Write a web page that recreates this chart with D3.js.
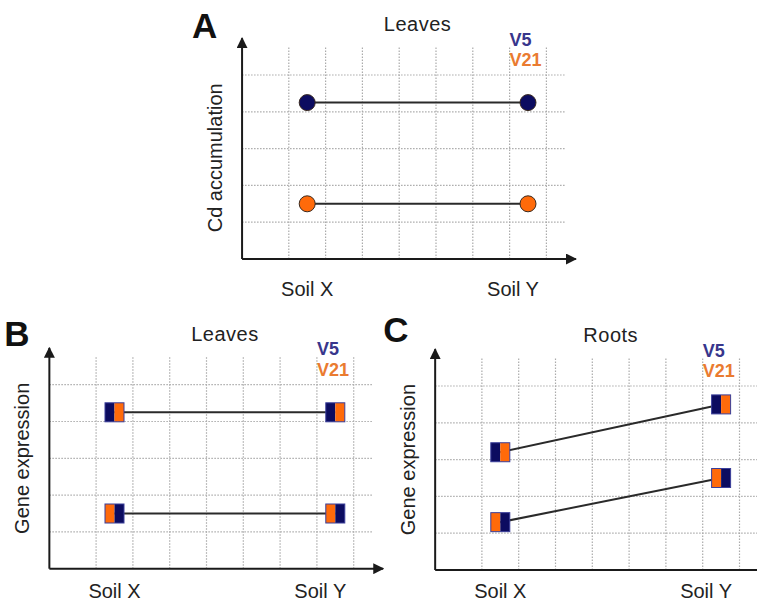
<!DOCTYPE html>
<html>
  <head>
    <meta charset="UTF-8" />
    <title>Cd accumulation and gene expression</title>
    <script src="https://cdn.jsdelivr.net/npm/d3@7"></script>
    <style>
      body {
        margin: 0;
        background: #fff;
      }
      svg text {
        font-family: "Liberation Sans", Arial, sans-serif;
      }
    </style>
  </head>
  <body>
    <div class="chart"></div>

    <script>
      // data (grid units)
      const categories = ["Soil X", "Soil Y"];
      const cdV5 = [4.25, 4.25];
      const cdV21 = [1.5, 1.5];
      const leavesHigh = [4.25, 4.25];
      const leavesLow = [1.5, 1.5];
      const rootsHigh = [3.2, 4.5];
      const rootsLow = [1.3, 2.5];
      const xGrid = [1, 2, 3, 4, 5, 6, 7, 8];
      const yGrid = [1, 2, 3, 4, 5];
      const legendLabels = ["V5", "V21"];

      let colors = { V5: "#0c0c60", V21: "#ff6a0a" };
      let legendColors = { V5: "#38368c", V21: "#ea7b30" };

      let width = 757;
      let height = 603;
      let unit = 36.8;

      let panels = [
        {
          letter: "A", x0: 252, y0: 259, title: "Leaves", ylabel: "Cd accumulation",
          ylabelAt: 2.75, catDy: 37, letterDx: -50, letterY: 6.0, kind: "dot",
          series: [
            { values: cdV5, halves: ["V5"] },
            { values: cdV21, halves: ["V21"] },
          ],
        },
        {
          letter: "B", x0: 59.3, y0: 568.7, title: "Leaves", ylabel: "Gene expression",
          ylabelAt: 3, catDy: 29, letterDx: -45, letterY: 6.05, kind: "split",
          series: [
            { values: leavesHigh, halves: ["V5", "V21"] },
            { values: leavesLow, halves: ["V21", "V5"] },
          ],
        },
        {
          letter: "C", x0: 445.1, y0: 570, title: "Roots", ylabel: "Gene expression",
          ylabelAt: 3, catDy: 28, letterDx: -52, letterY: 6.2, kind: "split",
          series: [
            { values: rootsHigh, halves: ["V5", "V21"] },
            { values: rootsLow, halves: ["V21", "V5"] },
          ],
        },
      ];

      let svg = d3
        .select(".chart")
        .append("svg")
        .attr("width", width)
        .attr("height", height);

      svg
        .append("defs")
        .append("marker")
        .attr("id", "arrow")
        .attr("markerUnits", "userSpaceOnUse")
        .attr("viewBox", "0 0 10 10")
        .attr("refX", 9)
        .attr("refY", 5)
        .attr("markerWidth", 11)
        .attr("markerHeight", 11)
        .attr("orient", "auto")
        .append("path")
        .attr("d", "M0,0 L10,5 L0,10 z")
        .attr("fill", "#1a1a1a");

      panels.forEach((p) => {
        let x = d3.scaleLinear().domain([0, 8]).range([p.x0, p.x0 + 8 * unit]);
        let y = d3.scaleLinear().domain([0, 6]).range([p.y0, p.y0 - 6 * unit]);
        let xCat = d3.scalePoint().domain(categories).range([x(1.5), x(7.5)]);
        let g = svg.append("g");

        // dotted grid
        g.selectAll(".vgrid")
          .data(xGrid)
          .enter()
          .append("line")
          .attr("x1", (d) => x(d))
          .attr("x2", (d) => x(d))
          .attr("y1", y(0))
          .attr("y2", y(5.75))
          .attr("stroke", "#ababab")
          .attr("stroke-width", 1.2)
          .attr("stroke-dasharray", "1.5,1.5");

        g.selectAll(".hgrid")
          .data(yGrid)
          .enter()
          .append("line")
          .attr("x1", x(-0.27))
          .attr("x2", x(8.5))
          .attr("y1", (d) => y(d))
          .attr("y2", (d) => y(d))
          .attr("stroke", "#ababab")
          .attr("stroke-width", 1.2)
          .attr("stroke-dasharray", "1.5,1.5");

        // axes with arrows
        g.append("line")
          .attr("x1", x(-0.27))
          .attr("x2", x(-0.27))
          .attr("y1", y(0))
          .attr("y2", y(6))
          .attr("stroke", "#1a1a1a")
          .attr("stroke-width", 2)
          .attr("marker-end", "url(#arrow)");

        g.append("line")
          .attr("x1", x(-0.27))
          .attr("x2", x(8.8))
          .attr("y1", y(0))
          .attr("y2", y(0))
          .attr("stroke", "#1a1a1a")
          .attr("stroke-width", 2)
          .attr("marker-end", "url(#arrow)");

        // connecting lines
        let line = d3
          .line()
          .x((d, i) => xCat(categories[i]))
          .y((d) => y(d));

        p.series.forEach((s) => {
          g.append("path")
            .datum(s.values)
            .attr("fill", "none")
            .attr("stroke", "#2a2a2a")
            .attr("stroke-width", 2)
            .attr("d", line);
        });

        // markers
        p.series.forEach((s) => {
          if (p.kind === "dot") {
            g.selectAll(null)
              .data(s.values)
              .enter()
              .append("circle")
              .attr("cx", (d, i) => xCat(categories[i]))
              .attr("cy", (d) => y(d))
              .attr("r", 8)
              .attr("fill", colors[s.halves[0]])
              .attr("stroke", "#3a2a20")
              .attr("stroke-width", 1);
          } else {
            let size = 19;
            s.values.forEach((d, i) => {
              let cx = xCat(categories[i]);
              let cy = y(d);
              s.halves.forEach((h, k) => {
                g.append("rect")
                  .attr("x", cx - size / 2 + (k * size) / 2)
                  .attr("y", cy - size / 2)
                  .attr("width", size / 2)
                  .attr("height", size)
                  .attr("fill", colors[h]);
              });
              g.append("rect")
                .attr("x", cx - size / 2)
                .attr("y", cy - size / 2)
                .attr("width", size)
                .attr("height", size)
                .attr("fill", "none")
                .attr("stroke", "#3b3f9a")
                .attr("stroke-width", 1);
            });
          }
        });

        // texts
        g.append("text")
          .attr("x", x(-0.27) + p.letterDx)
          .attr("y", y(p.letterY))
          .attr("font-size", 35)
          .attr("font-weight", "bold")
          .attr("fill", "#111")
          .text(p.letter);

        g.append("text")
          .attr("x", x(4.5))
          .attr("y", y(6.2))
          .attr("text-anchor", "middle")
          .attr("font-size", 20)
          .attr("letter-spacing", 0.5)
          .attr("fill", "#222")
          .text(p.title);

        g.append("text")
          .attr(
            "transform",
            `translate(${x(-0.27) - 20},${y(p.ylabelAt)}) rotate(-90)`
          )
          .attr("text-anchor", "middle")
          .attr("font-size", 20)
          .attr("fill", "#222")
          .text(p.ylabel);

        g.selectAll(null)
          .data(categories)
          .enter()
          .append("text")
          .attr("x", (d, i) => xCat(d) + (i === 1 ? -15 : 0))
          .attr("y", y(0) + p.catDy)
          .attr("text-anchor", "middle")
          .attr("font-size", 20)
          .attr("fill", "#222")
          .text((d) => d);

        g.selectAll(null)
          .data(legendLabels)
          .enter()
          .append("text")
          .attr("x", x(7.0))
          .attr("y", (d, i) => y(i === 0 ? 5.8 : 5.25))
          .attr("font-size", 18)
          .attr("font-weight", "bold")
          .attr("fill", (d) => legendColors[d])
          .text((d) => d);
      });
    </script>
  </body>
</html>
